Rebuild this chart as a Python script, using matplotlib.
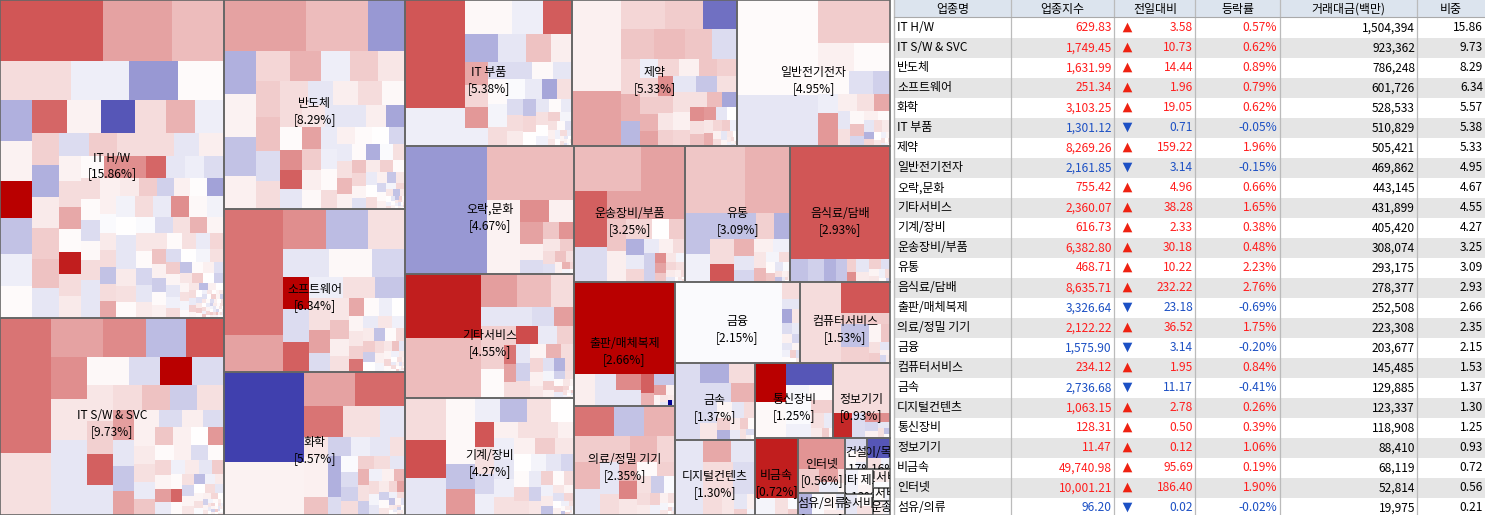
import matplotlib
matplotlib.use("Agg")
import matplotlib.pyplot as plt
from matplotlib.patches import Rectangle
from matplotlib.colors import LinearSegmentedColormap, Normalize

plt.rcParams['font.family'] = ['Noto Sans CJK KR', 'DejaVu Sans']

# ---------- table ----------
tbl_names = ['IT H/W', 'IT S/W & SVC', '반도체', '소프트웨어', '화학', 'IT 부품', '제약', '일반전기전자', '오락,문화',
             '기타서비스', '기계/장비', '운송장비/부품', '유통', '음식료/담배', '출판/매체복제', '의료/정밀 기기', '금융',
             '컴퓨터서비스', '금속', '디지털컨텐츠', '통신장비', '정보기기', '비금속', '인터넷', '섬유/의류']
tbl_index = [629.83, 1749.45, 1631.99, 251.34, 3103.25, 1301.12, 8269.26, 2161.85, 755.42, 2360.07, 616.73, 6382.80,
             468.71, 8635.71, 3326.64, 2122.22, 1575.90, 234.12, 2736.68, 1063.15, 128.31, 11.47, 49740.98, 10001.21, 96.20]
tbl_diff = [3.58, 10.73, 14.44, 1.96, 19.05, 0.71, 159.22, 3.14, 4.96, 38.28, 2.33, 30.18, 10.22, 232.22, 23.18, 36.52,
            3.14, 1.95, 11.17, 2.78, 0.50, 0.12, 95.69, 186.40, 0.02]
tbl_rate = [0.57, 0.62, 0.89, 0.79, 0.62, -0.05, 1.96, -0.15, 0.66, 1.65, 0.38, 0.48, 2.23, 2.76, -0.69, 1.75, -0.20,
            0.84, -0.41, 0.26, 0.39, 1.06, 0.19, 1.90, -0.02]
tbl_amount = [1504394, 923362, 786248, 601726, 528533, 510829, 505421, 469862, 443145, 431899, 405420, 308074, 293175,
              278377, 252508, 223308, 203677, 145485, 129885, 123337, 118908, 88410, 68119, 52814, 19975]
tbl_share = [15.86, 9.73, 8.29, 6.34, 5.57, 5.38, 5.33, 4.95, 4.67, 4.55, 4.27, 3.25, 3.09, 2.93, 2.66, 2.35, 2.15,
             1.53, 1.37, 1.30, 1.25, 0.93, 0.72, 0.56, 0.21]
tbl_header = ['업종명', '업종지수', '전일대비', '등락률', '거래대금(백만)', '비중']

# ---------- treemap sectors ----------
sec_names = tbl_names + ['건설', '종이/목재', '기타 제조', '방송서비스', '통신서비스', '사업서비스', '운송']
sec_share = tbl_share + [0.17, 0.16, 0.13, 0.12, 0.07, 0.05, 0.05]
sec_area = [71232, 44128, 37829, 29503, 25883, 24382, 24090, 22338, 21632, 20956, 19773, 15096, 14280, 13600, 12400,
            10900, 10080, 7200, 6240, 6000, 5850, 4275, 3354, 2576, 1012, 713, 713, 700, 588, 323, 221, 238]
sec_strips = [-2, -3, 3, -3, 3, -2, 2, -2, 2, -1, -2, 2, -2, 1, 1, 1]

s_hw = [3, 4, -6, 6, -6, 6, -7, 7, -7, 7, -7]
w_hw = [6283, 4209, 3172, 2769, 2301, 1911, 1794, 1312, 1280, 1184, 1152, 1024, 1024, 1155, 1122, 1122, 1056, 957, 957,
        864, 864, 837, 837, 783, 810, 690, 644, 644, 667, 575, 575, 550, 572, 484, 506, 484, 484, 484,
        506, 462, 462, 440, 440, 418, 440, 399, 399, 399, 361, 380, 380, 342, 340, 323, 306, 289, 289, 289, 289,
        288, 304, 272, 272, 272, 272, 272,
        240, 235, 230, 228, 225, 222, 220, 210, 205, 200, 195, 190, 185, 180, 176, 172, 168, 165, 162, 158, 155, 150,
        146, 142, 140, 136, 132, 128, 125, 122, 118, 115, 112, 110, 106, 102, 98, 95, 92, 88, 85, 82, 78, 75, 72, 68,
        65, 62, 58, 55, 52, 48, 45, 42, 40, 38, 35, 32, 30, 28, 26, 24, 22, 20, 18, 16, 14, 12, 10, 8,
        14, 13, 13, 12, 12, 11, 11, 11, 10, 10, 10, 9, 9, 9, 9, 8, 8, 8, 8, 7, 7, 7, 7, 7, 6, 6, 6, 6, 6, 6,
        5, 5, 5, 5, 5, 5, 5, 4, 4, 4, 4, 4, 4, 4, 3, 3, 3, 3, 3, 3]
c_hw = [3.3, 1.8, 1.3, .7, -.35, -2.0, .1, -1.55, .25, 5, -1.2, -.35, .1, 3.0, .25, -3.3, .7, 1.5, -.35,
        .9, -1.55, .4, 1.0, 1.2, -.5, -.7, 1.0, .7, .7, -.5, .35, .25, .7, 1.7, .1, 4.4, .7, .4,
        .1, 2.2, 2.2, 3.0, -.5, -.35, -.7, .7, .1, -.7, .15, .7, -.5, -.5, .3, .4, 1.0, -.9, .3, .05, -1.8,
        .3, -.1, .4, .7, -1.2, .7, 1.7,
        -.25, .7, -.4, 2.2, .15, -.25, 0, -.5, -.5, .4, .6, .1, -.1, -.7, .6, 1.5, .2, .5, .1, -.8, -.5, .4,
        .5, .1, .6, -.4, .8, 1.2, .3, -1.0, .1, .3, -.7, 0, -.2, .6, 1.0, .2, -.5, -.3, .7, -1.2, .1, .3, -.6, .5,
        1.0, 0, -.9, .2, .6, -.2, .1, .5, -1.3, .3, 0, .7, -.4, .9, .2, 0, -.6, .4, 1.0, .1, -.3, .5, 0, .2,
        .4, -.6, 0, .9, .2, -1.0, .5, 0, .7, -.3, 1.1, .1, -.7, .3, 0, .6, -.4, .2, .8, 0, -.9, .4, .1, .6, -.2, 0,
        1.0, .3, -.5, .1, .5, 0, -.4, .7, .2, -.8, 0, .4, 1.2, -.2, .3, 0, .6, -.5, .1, .2]

s_sw = [-2, 4, -4, 4, -4, 4, -4, 4]
w_sw = [6885, 3162, 2028, 1677, 1599, 1482, 1512, 1440, 1368, 1332, 1176, 896, 896, 896, 910, 858, 806, 780,
        725, 725, 675, 675, 609, 546, 525, 504, 416, 368, 336, 336,
        300, 290, 280, 270, 260, 250, 240, 230, 220, 210, 200, 190, 180, 170, 165, 160, 150, 145, 140, 130, 125, 120,
        110, 105, 100, 95, 90, 85, 80, 75, 70, 65, 60, 55, 50, 45, 40, 35, 30, 28, 25, 22, 20, 18, 15, 12, 10,
        10, 9, 9, 8, 8, 8, 7, 7, 7, 6, 6, 6, 5, 5, 5, 5, 4, 4, 4, 4, 3, 3, 3, 3]
c_sw = [2.7, .6, 1.8, 2.3, -1.3, 3.3, 2.2, .5, -.5, -.5, .15, -.7, 5, -.7, .5, .9, 3.1, -.5,
        .7, 1.2, -1.0, .6, 1.9, -.5, -1.1, 1.8, .3, -.7, .35, -.7,
        .3, .4, .6, -.4, 1.1, 1.1, .3, 0, 2.0, .1, .3, -.7, .1, .8, .2, 1.9, -.4, -.3, .4, -.5, 1.0, .1,
        3.0, .1, .6, -.8, .2, .5, -1.3, -.3, .4, 0, .7, -.5, .2, .6, -.1, .3, .8, 0, -.9, .2, .5, -.2, .1, .4, 0,
        .5, -.4, 0, .8, .2, -.9, .3, 0, .6, -.3, .1, 1.0, 0, -.5, .4, .2, -.7, .1, .6, 0, .3, -.2, .5, 0]

s_semi = [3, -4, 5, -4, 5, -5]
w_semi = [4131, 3162, 1887, 1376, 1376, 1248, 1056, 1054, 930, 899, 868, 837, 840, 816, 720, 672,
          672, 600, 576, 576, 552, 484, 484, 440, 418, 440,
          340, 320, 300, 290, 288, 270, 260, 250, 240, 230, 225, 220, 210, 200, 195, 190, 180, 175, 170, 160, 155, 150,
          145, 140, 130, 125, 120, 115, 110, 105, 100, 95, 90, 85, 80, 75, 70, 65, 60, 55, 50, 45, 40, 35, 30, 25, 20, 15,
          12, 11, 10, 9, 9, 8, 8, 7, 7, 6, 6, 5, 5, 5, 4, 4, 4, 3, 3, 3]
c_semi = [1.8, 1.3, -2.0, -1.55, .25, -1.2, .3, .8, 1.5, -.35, 1.0, .5, 1.0, 1.2, -.7, .7,
          .7, -.5, .35, .7, .15, .7, .1, 2.2, 3.1, -.5,
          .5, -.5, -.5, .35, -1.75, 1.8, 1.0, .35, .15, -.4, -.35, .1, .7, .3, .1, 0, -.8, -.4, .6, 1.4, .3, .1,
          -1.6, -.1, .6, 1.2, .8, .2, -.6, .4, .9, .1, -.4, 0, .7, .3, -1.1, .5, -.8, .1, .3, -.2, .8, .5, -1.2, .4, 0, -.3,
          .6, -.5, 0, .2, -1.2, .9, .1, .4, -.3, 0, .7, .2, -.6, .3, 0, .5, -.2, .1, .8, 0]

s_soft = [-2, 3, 3, -3, 3, -3]
w_soft = [7370, 2160, 1720, 1680, 1480, 1288, 1204, 924, 864, 891, 810, 726, 704, 660, 651, 483, 399,
          340, 300, 270, 260, 240, 220, 210, 195, 190, 180, 170, 160, 150, 145, 140, 130, 125, 120, 110, 105, 100, 95,
          90, 80, 75, 70, 60, 55, 50, 45, 40, 35, 30, 25, 20,
          15, 14, 13, 12, 11, 10, 9, 8, 8, 7, 6, 6, 5, 5, 4, 4]
c_soft = [2.7, 1.8, 2.2, -1.3, .6, -.5, .15, -.8, 5, -.7, 3.1, -.35, .6, -1.1, .6, 1.8, -.7,
          .5, 1.2, .35, .6, 1.7, .1, -.35, 0, .2, .5, .9, 2.7, -.4, .5, -.3, .4, -1.2, .1, .7, 1.0, -1.0, 0,
          .7, .3, -.2, .5, 1.2, -.5, .2, .8, .1, -.3, .4, 0, .6,
          .3, -.4, .7, 0, .2, -.6, .5, 0, .9, .1, -.3, .4, 0, .6, -.2, .1]

s_chem = [-2, 2, 3, -4, 4, -3]
w_chem = [7120, 4240, 1785, 1715, 1209, 1116, 775, 480, 480, 490, 450, 440, 380, 380, 300, 280, 266, 238,
          250, 240, 230, 220, 210, 200, 190, 180, 170, 160, 150, 140, 130, 120, 110, 100, 95, 90, 80, 75, 70, 60, 50, 45,
          40, 35, 30, 25, 20, 16, 14, 12, 11, 10, 9, 8, 7, 7, 6, 5, 5, 4, 4, 3]
c_chem = [-3.75, .25, 1.8, 2.9, 2.7, .6, -.5, .5, .3, .3, 1.2, -.9, -.35, -.5, .6, -1.55, -1.55, -.7,
          -.1, -.7, -.9, .7, .9, .7, -.5, 1.5, .6, -1.0, -.3, .3, 1.4, .7, -.2, -.5, .4, .8, 1.8, -.9, .1, .5, -.3, .7,
          -1.2, .2, -.6, .4, 0, .5, -.4, .1, .7, 0, -.9, .3, .6, 0, -.2, .4, .1, -.5, .3, 0]

s_itp = [-2, 3, 4, -4, 4]
w_itp = [6480, 2280, 1610, 1050, 1015, 896, 784, 672, 588, 529, 483, 483, 414, 396, 378, 360, 342,
         420, 380, 330, 300, 280, 260, 250, 230, 220, 205, 190, 175, 160, 150, 140, 130, 120, 110, 100, 90, 85, 75, 70,
         60, 50, 45, 40, 35, 30, 25, 20, 16, 14, 12, 10, 9, 8, 7, 6, 5, 4]
c_itp = [3.3, -.35, .15, -.35, 3.2, -1.55, -.5, 1.2, .35, 1.7, .8, 2.0, -.35, -.7, -.7, .15, -.5,
         .1, -.2, .7, -.1, -.4, -1.75, .6, -.7, .7, .4, -1.2, .8, 0, -.5, .1, -.4, .6, 0, -.3, .9, -.2, .6, .1,
         -.6, .3, .5, -.3, 0, .7, -.4, .2, .6, -.5, 0, .3, -.7, .1, .5, -.2, 0, .4]

s_phar = [-2, 3, 4, -3, -5, 4, -4]
w_phar = [4459, 2695, 1276, 1073, 986, 1023, 930, 837, 775, 646, 513, 475, 340, 340, 300, 300, 280, 340, 323, 306, 323,
          304, 270, 255, 255,
          290, 260, 250, 240, 220, 200, 190, 170, 160, 150, 140, 130, 120, 110, 100, 90, 85, 75, 70, 60, 50, 45, 40, 30, 25, 20,
          15, 12, 10, 8, 7, 6, 5, 4]
c_phar = [.3, 1.8, .8, 1.0, -2.8, 1.1, 1.3, 1.1, -.7, .8, 1.5, -1.4, -.35, .8, 1.0, 1.5, 1.8, .8, .3, 1.1, .9,
          2.2, 1.0, .5, .9,
          -.5, -1.1, .6, .6, .3, .8, .6, 1.3, -1.75, 2.2, .6, 1.2, 2.0, -.5, 0, .5, 1.6, .8, 1.0, -.3, .3, .7, -.5, .2, .5, 0,
          .4, -.3, .7, 0, .2, -.5, .6, .1]

s_elec = [-2, 1, 2, 3, -2]
w_elec = [7695, 4131, 3096, 1008, 1008, 713, 552, 391, 380, 660,
          320, 290, 260, 230, 210, 190, 170, 150, 135, 120, 110, 95, 85, 75, 65, 55, 45, 35, 25, 18, 14, 11, 9, 7, 6, 5, 4]
c_elec = [.1, -.5, 1.0, .3, .1, .1, -.6, -.9, -.35, 2.0,
          .35, .6, 1.7, -.5, .6, .15, 1.2, -.8, .3, .1, -.5, .7, .4, -1.5, .8, 0, .5, -.3, .2, .6, -.4, 0, .7, .2, -.3, .4, 0]

s_ent = [-1, 1, -1]
w_ent = [10496, 4730, 2409, 588, 525, 465, 330, 300, 240, 228, 200, 170, 140, 120, 110, 90, 70, 50, 40, 30, 20]
c_ent = [-2.0, 1.3, .25, 2.2, .3, 1.8, .3, -.7, 1.1, 2.1, .5, 1.0, .7, -.6, 1.2, .6, .3, 1.5, -.2, .8, .1]

s_svc = [-2, 3, 3, -3, -4]
w_svc = [4864, 4560, 1155, 1122, 759, 1000, 440, 400, 483, 483, 644, 234, 247, 221, 208,
         342, 290, 270, 240, 220, 210, 200, 190, 175, 160, 150, 140, 130, 120, 110, 100, 90, 85, 75, 70, 60, 50, 45, 40, 30, 25, 20,
         16, 13, 11, 9, 8, 7, 6, 5, 4]
c_svc = [4.4, 1.3, 1.9, 1.3, .7, -.5, -.7, 1.9, .9, .9, .1, .9, 2.7, 1.8, .7,
         3.5, -.4, .9, -.5, -.9, .7, .2, 1.5, .7, .8, .3, .5, -.6, -1.5, .7, -.2, .9, .3, -.9, .6, .1, 1.0, -.4, .5, .2, .8, 0,
         .6, -.3, .2, .9, 0, .4, -.5, .1, .3]

s_mach = [-3, -4, 4, -4, 4]
w_mach = [1722, 1517, 1517, 945, 940, 725, 754, 600, 624, 576, 552, 500, 540, 380, 420, 391, 340, 323, 272,
          390, 370, 350, 330, 310, 295, 280, 265, 250, 240, 225, 210, 200, 190, 180, 170, 160, 150, 140, 130, 120, 110, 100,
          90, 85, 75, 70, 60, 50, 40, 30, 20, 16, 13, 11, 10, 9, 8, 7, 6, 5, 4]
c_mach = [.7, 3.4, -.5, .15, .15, -1.2, 2.0, -.35, -1.3, .6, 0, 3.3, .6, -.8, -.35, .3, .6, .6, .3,
          -.35, -.5, -.35, .6, .3, 1.0, .5, 0, -.2, -.5, -.8, .1, .8, .6, -.4, -.9, .5, .9, .1, .7, -.3, .4, -1.2,
          .5, .2, -.6, .8, 0, .3, -.3, .6, .1, -1.2, .4, 0, .7, -.4, .2, .5, 0, -.3, .3]

s_auto = [2, -2, 2, -2, 3]
w_auto = [2970, 1980, 1815, 1155, 1117, 1117, 620, 600, 500, 320, 320,
          300, 270, 250, 220, 200, 180, 170, 150, 130, 120, 110, 100, 90, 80, 70, 60, 50, 40, 30, 20, 14, 10, 8, 6, 5]
c_auto = [1.3, 1.8, 3.1, -.7, 1.8, 1.8, 1.1, .35, .8, 0, 1.0,
          -1.55, -.4, .8, -.4, .3, .7, -.9, -.9, 2.2, 1.8, 1.1, .5, -.2, .8, .6, .4, -.5, .3, .7, .1, .5, -.3, 0, .6, .2]

s_dist = [2, -2, 3, -2, -3]
w_dist = [3953, 3015, 1025, 700, 1215, 486, 432, 600, 450, 340, 270, 250,
          300, 260, 220, 190, 160, 140, 120, 100, 85, 70, 55, 45, 35, 25, 16, 12, 9, 7, 5]
c_dist = [1.1, 1.5, -1.2, -.3, -1.2, .9, -1.5, .7, 3.3, 1.5, -.5, -.8,
          .3, -.3, .5, 1.4, -.2, .7, .1, 1.1, -.5, -.1, .6, -1.2, .3, .4, -.4, .7, 0, .3, -.2]

s_food = [1, -1, -1, -1, -1, -2]
w_food = [11300, 414, 368, 276, 253, 110, 97, 170, 140, 110, 90, 70, 60, 50, 40, 30, 20]
c_food = [3.3, -1.2, -.9, -1.5, -1.1, .9, 2.2, -.5, .4, .9, -.6, .2, .5, -.3, .7, .1, -.9]

s_pub = [1, -1, -1, -2, -2]
w_pub = [9207, 651, 682, 390, 416, 234, 169, 170, 95, 75, 50, 40, 30, 25, 18, 12]
c_pub = [5, .35, -.5, 2.3, -.5, 3.1, 1.5, -1.1, 1.9, .3, .2, .5, -.5, .4, -5, -.6]

s_med = [3, 4, -2]
w_med = [1170, 900, 900, 800, 685, 729, 459, 676, 650,
         510, 330, 300, 280, 250, 230, 200, 190, 170, 150, 130, 110, 100, 85, 70, 55, 45, 35, 25, 16, 12, 9, 7, 5]
c_med = [2.7, -1.2, 1.5, 1.0, 1.0, 1.4, .8, 1.4, -.5,
         -.5, .7, 1.5, 2.4, .5, .1, .9, .6, -1.0, -.1, .7, .4, .9, -.3, .3, .6, -.2, .5, .1, .8, -.4, 0, .3, .6]

s_fin = [-1, 1, 1]
w_fin = [8640, 306, 170, 95, 85, 75, 70, 60, 55, 50, 45, 40, 35, 30, 25, 20, 15]
c_fin = [-.1, .7, -.5, -1.75, .5, -.7, -.4, .3, -.8, -.5, .2, -.3, .1, .9, -.6, 0, .4]

s_com = [-1, 1, 1]
w_com = [3280, 1488, 528, 570, 378, 200, 150, 110, 90, 70, 50, 40, 30]
c_com = [.7, 3.3, 1.0, -1.2, .9, .2, 1.1, .6, 1.0, -.5, .3, -.8, .4]

s_met = [-1, 2, 2]
w_met = [2002, 588, 546, 560, 442, 330, 280, 240, 200, 170, 150, 130, 120, 100, 85, 70, 60, 45, 30, 20]
c_met = [-.7, -1.6, .7, -.7, 1.5, -.7, .5, .2, -.5, .7, .9, -1.5, .4, -.4, 1.0, .1, .6, -.7, .3, 0]

s_dig = [-1, 2]
w_dig = [2146, 594, 528, 800, 600, 320, 220, 150, 100, 70, 40]
c_dig = [-.5, 1.7, -.5, .7, -.7, .7, .5, -.5, .3, .9, -.2]

s_tel = [-2, 1, 2]
w_tel = [1209, 1085, 1058, 368, 368, 520, 300, 240, 160, 110, 90, 60, 35]
c_tel = [5, .15, -3.3, -.2, .1, -.1, -.3, .9, .6, -.4, .4, 1.0, .2]

s_info = [1, -1, -1, 1]
w_info = [2850, 480, 312, 240, 100, 80, 60, 45, 30, 20]
c_info = [.7, 4.2, -.7, 2.2, -.8, .3, -.5, .6, -1.2, .1]

s_nfm = [1]
w_nfm = [2604, 300, 200, 100, 60]
c_nfm = [4.4, -.2, .6, -.1, 1.0]

s_web = [1]
w_web = [1440, 500, 240, 200, 100, 70]
c_web = [2.1, 1.0, 1.8, -.4, .6, .2]

s_tex = [-1]
w_tex = [300, 250, 200, 150, 100]
c_tex = [-1.5, -.1, .2, -.5, .4]

s_con = []
w_con = [300, 200, 120, 80]
c_con = [-.8, .1, .3, -.4]

s_pap = [1]
w_pap = [450, 150, 100]
c_pap = [-3.3, .6, -.3]

s_etc = []
w_etc = [300, 220, 120]
c_etc = [-.3, .1, .2]

s_bro = []
w_bro = [250, 180, 130]
c_bro = [-.5, .1, .6]

s_tsv = []
w_tsv = [200, 90]
c_tsv = [.4, -.1]

s_bsv = []
w_bsv = [140, 70]
c_bsv = [.1, -.3]

s_trn = []
w_trn = [150, 80]
c_trn = [.3, -.2]

sector_cells = [(w_hw, c_hw, s_hw), (w_sw, c_sw, s_sw), (w_semi, c_semi, s_semi), (w_soft, c_soft, s_soft),
                (w_chem, c_chem, s_chem), (w_itp, c_itp, s_itp), (w_phar, c_phar, s_phar), (w_elec, c_elec, s_elec),
                (w_ent, c_ent, s_ent), (w_svc, c_svc, s_svc), (w_mach, c_mach, s_mach), (w_auto, c_auto, s_auto),
                (w_dist, c_dist, s_dist), (w_food, c_food, s_food), (w_pub, c_pub, s_pub), (w_med, c_med, s_med),
                (w_fin, c_fin, s_fin), (w_com, c_com, s_com), (w_met, c_met, s_met), (w_dig, c_dig, s_dig),
                (w_tel, c_tel, s_tel), (w_info, c_info, s_info), (w_nfm, c_nfm, s_nfm), (w_web, c_web, s_web),
                (w_tex, c_tex, s_tex), (w_con, c_con, s_con), (w_pap, c_pap, s_pap), (w_etc, c_etc, s_etc),
                (w_bro, c_bro, s_bro), (w_tsv, c_tsv, s_tsv), (w_bsv, c_bsv, s_bsv), (w_trn, c_trn, s_trn)]


# ---------- treemap layout ----------
def worst(row, side):
    s = sum(row)
    return max(max(side * side * v / (s * s), s * s / (side * side * v)) for v in row)


def squarify(x, y, w, h, vals):
    out = []
    total = sum(vals)
    if total <= 0 or w <= 0 or h <= 0:
        return out
    vals = [v * w * h / total for v in vals]
    i = 0
    while i < len(vals):
        side = min(w, h)
        row = [vals[i]]
        j = i + 1
        while j < len(vals) and worst(row + [vals[j]], side) <= worst(row, side):
            row.append(vals[j])
            j += 1
        s = sum(row)
        if w >= h:
            t = s / h
            cy = y
            for v in row:
                out.append((x, cy, t, v / t))
                cy += v / t
            x += t
            w -= t
        else:
            t = s / w
            cx = x
            for v in row:
                out.append((cx, y, v / t, t))
                cx += v / t
            y += t
            h -= t
        i = j
    return out


def strip_layout(x, y, w, h, vals, strips):
    """Lay the first values in strips (n>0 row along the top, n<0 column at the left), squarify the rest."""
    out = []
    i = 0
    for n in strips:
        chunk = vals[i:i + abs(n)]
        i += abs(n)
        s = sum(chunk)
        if n > 0:
            t = min(s / w, h)
            cx = x
            for v in chunk:
                out.append((cx, y, v / s * w, t))
                cx += v / s * w
            y += t
            h -= t
        else:
            t = min(s / h, w)
            cy = y
            for v in chunk:
                out.append((x, cy, t, v / s * h))
                cy += v / s * h
            x += t
            w -= t
    out += squarify(x, y, w, h, vals[i:])
    return out


MAP_W, MAP_H = 890, 515
fig = plt.figure(figsize=(14.85, 5.15), dpi=100, facecolor='white')
ax = fig.add_axes([0, 0, 1, 1])
ax.set_xlim(0, 1485)
ax.set_ylim(515, 0)
ax.axis('off')

cmap = LinearSegmentedColormap.from_list('chg', ['#000093', '#FFFFFF', '#B90000'])
norm = Normalize(-5, 5)

scale = MAP_W * MAP_H / sum(sec_area)
sec_rects = strip_layout(0, 0, MAP_W, MAP_H, [a * scale for a in sec_area], sec_strips)

for (sx, sy, sw, sh), (vals, chgs, strips) in zip(sec_rects, sector_cells):
    n = min(len(vals), len(chgs))
    for (cx, cy, cw, ch), c in zip(strip_layout(sx, sy, sw, sh, vals[:n], strips), chgs[:n]):
        ax.add_patch(Rectangle((cx, cy), cw, ch, facecolor=cmap(norm(c)), edgecolor='none', antialiased=False, zorder=1))

for (sx, sy, sw, sh), name, share in zip(sec_rects, sec_names, sec_share):
    border = Rectangle((sx, sy), sw, sh, facecolor='none', edgecolor='#666666', linewidth=1.2, zorder=2)
    ax.add_patch(border)
    clip = Rectangle((sx, sy), sw, sh, transform=ax.transData)
    mx, my = sx + sw / 2, sy + sh / 2
    for text, dy in ((name, -1), (f'[{share:.2f}%]', 15)):
        t = ax.text(mx, my + dy, text, ha='center', va='center', fontsize=8.6, color='black', zorder=3, clip_on=True)
        t.set_clip_path(clip)

# ---------- table ----------
RED, BLUE = '#FF1E1E', '#1C50C4'
TOP, ROW_H = 17.7, 20.0
col_seps = [1010.5, 1114, 1195, 1280, 1417]
hdr_centers = [953, 1062, 1155, 1238, 1348, 1451]
X0, X1 = 894, 1485

ax.add_patch(Rectangle((X0, 0), X1 - X0, TOP, facecolor='#DCE4EE', edgecolor='none', zorder=1))
ax.plot([893.5, 893.5], [0, 515], color='#BBBBBB', lw=1.0, zorder=2)
for i in range(len(tbl_names)):
    if i % 2 == 1:
        ax.add_patch(Rectangle((X0, TOP + i * ROW_H), X1 - X0, ROW_H, facecolor='#E5E5E5', edgecolor='none', zorder=1))
for sep in col_seps:
    ax.plot([sep, sep], [0, 515], color='#BBBBBB', lw=0.9, zorder=2)
ax.plot([X0, X1], [TOP - .5, TOP - .5], color='#AAAAAA', lw=0.8, zorder=2)

for cx, text in zip(hdr_centers, tbl_header):
    ax.text(cx, 9, text, ha='center', va='center', fontsize=8.6, color='black', zorder=3)

for i, (name, idx, diff, rate, amt, share) in enumerate(zip(tbl_names, tbl_index, tbl_diff, tbl_rate, tbl_amount, tbl_share)):
    y = TOP + (i + .5) * ROW_H
    col = RED if rate >= 0 else BLUE
    ax.text(897, y, name, ha='left', va='center', fontsize=8.6, color='black', zorder=3)
    ax.text(1112, y, f'{idx:,.2f}', ha='right', va='center', fontsize=8.6, color=col, zorder=3)
    ax.scatter([1127], [y - .5], marker='^' if rate >= 0 else 'v', s=48, color='#EE2211' if rate >= 0 else BLUE,
               linewidths=0, zorder=3)
    ax.text(1193, y, f'{diff:,.2f}', ha='right', va='center', fontsize=8.6, color=col, zorder=3)
    ax.text(1277, y, f'{rate:.2f}%', ha='right', va='center', fontsize=8.6, color=col, zorder=3)
    ax.text(1415, y, f'{amt:,}', ha='right', va='center', fontsize=8.6, color='black', zorder=3)
    ax.text(1483, y, f'{share:.2f}', ha='right', va='center', fontsize=8.6, color='black', zorder=3)

fig.savefig('out.png', dpi=100)
